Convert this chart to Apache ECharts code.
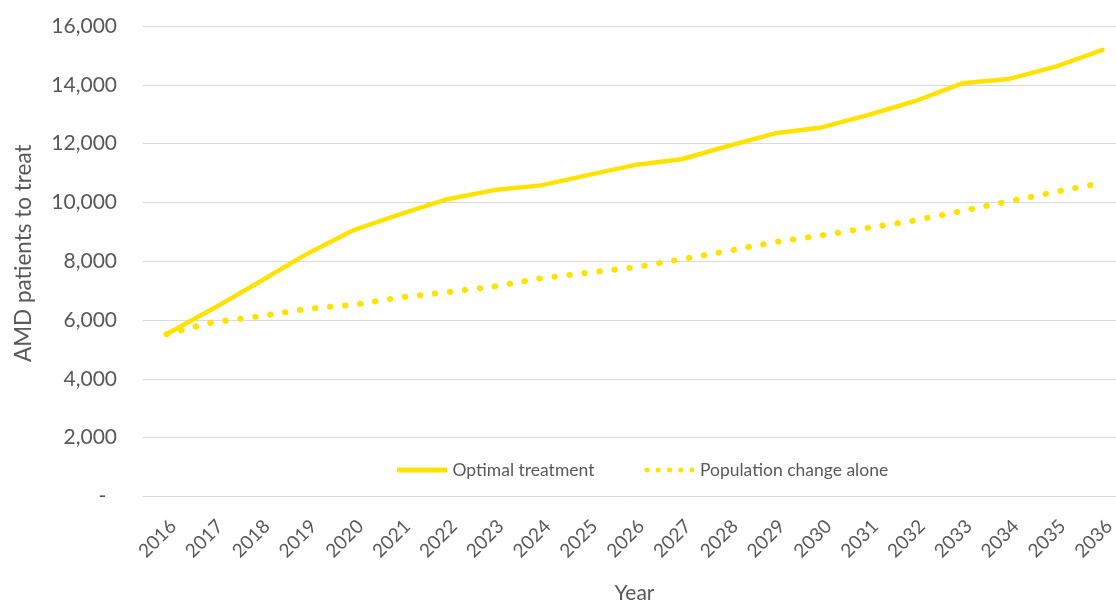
<!DOCTYPE html>
<html>
<head>
<meta charset="utf-8">
<script src="https://cdn.jsdelivr.net/npm/echarts@6/dist/echarts.min.js"></script>
<style>
html,body{margin:0;padding:0;background:#fff;}
#chart{width:1116px;height:603px;}
</style>
</head>
<body>
<div id="chart"></div>
<script>
const years = ['2016','2017','2018','2019','2020','2021','2022','2023','2024','2025','2026','2027','2028','2029','2030','2031','2032','2033','2034','2035','2036'];
const optimalTreatment = [5520, 6390, 7310, 8250, 9060, 9600, 10110, 10420, 10580, 10930, 11270, 11470, 11920, 12350, 12550, 12980, 13450, 14050, 14200, 14620, 15190];
const populationChange = [5520, 5930, 6130, 6380, 6520, 6770, 6950, 7140, 7420, 7610, 7790, 8070, 8350, 8650, 8880, 9140, 9390, 9710, 10040, 10360, 10670];
const seriesNames = ['Optimal treatment', 'Population change alone'];
const yTicks = {min: 0, max: 16000, interval: 2000};

const FONT = 'Lato';
const GREY = '#595959';
const YELLOW = '#FFE200';

// legend icons: a solid bar and a row of five round dots
const solidIcon = 'path://M0,0L50,0L50,5L0,5Z';
let dotPath = '';
for (let i = 0; i < 5; i++) {
  const cx = 2.5 + i * 11.25;
  dotPath += 'M' + (cx - 2.5) + ',2.5A2.5,2.5 0 1,0 ' + (cx + 2.5) + ',2.5A2.5,2.5 0 1,0 ' + (cx - 2.5) + ',2.5Z';
}
const dotIcon = 'path://' + dotPath;

const chart = echarts.init(document.getElementById('chart'));
chart.setOption({
  animation: false,
  backgroundColor: '#fff',
  textStyle: {fontFamily: FONT, color: GREY},
  grid: {left: 143, top: 26, width: 983, height: 470.5, containLabel: false, outerBoundsMode: 'none'},
  legend: {
    left: 392, top: 456,
    itemWidth: 51, itemHeight: 5, itemGap: 50,
    textStyle: {fontFamily: FONT, fontSize: 17.5, color: GREY},
    data: [
      {name: seriesNames[0], icon: solidIcon, itemStyle: {color: YELLOW}},
      {name: seriesNames[1], icon: dotIcon, itemStyle: {color: YELLOW}}
    ]
  },
  xAxis: {
    type: 'category',
    data: years,
    boundaryGap: true,
    name: 'Year',
    nameLocation: 'middle',
    nameGap: 86,
    nameTextStyle: {fontFamily: FONT, fontSize: 21, color: GREY, verticalAlign: 'top'},
    axisLine: {show: true, lineStyle: {color: '#d9d9d9', width: 1}},
    axisTick: {show: false},
    axisLabel: {rotate: 45, margin: 20, verticalAlign: 'top', fontFamily: FONT, fontSize: 19, color: GREY, interval: 0}
  },
  yAxis: {
    type: 'value',
    min: yTicks.min, max: yTicks.max, interval: yTicks.interval,
    name: 'AMD patients to treat',
    nameLocation: 'middle',
    nameGap: 108,
    nameTextStyle: {fontFamily: FONT, fontSize: 22.5, color: GREY, padding: [0, 0, 0, 16]},
    axisLine: {show: false},
    axisTick: {show: false},
    splitLine: {lineStyle: {color: '#d9d9d9', width: 1}},
    axisLabel: {
      margin: 26, fontFamily: FONT, fontSize: 21, color: GREY,
      formatter: v => v === 0 ? '-  ' : v.toLocaleString('en-US')
    }
  },
  series: [
    {
      name: seriesNames[0], type: 'line', data: optimalTreatment,
      symbol: 'none', smooth: false,
      lineStyle: {color: YELLOW, width: 4.5, cap: 'round', join: 'round'},
      itemStyle: {color: YELLOW}
    },
    {
      name: seriesNames[1], type: 'line', data: populationChange,
      symbol: 'none', smooth: false,
      lineStyle: {color: YELLOW, width: 6, type: [0.5, 14.6], cap: 'round', join: 'round'},
      itemStyle: {color: YELLOW}
    }
  ]
});
</script>
</body>
</html>
